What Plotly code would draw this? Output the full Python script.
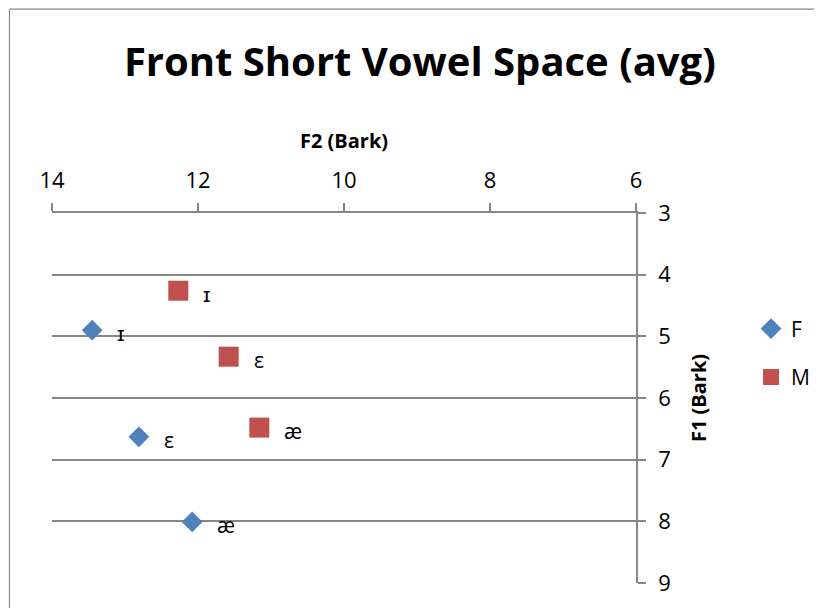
import plotly.graph_objects as go

# vowel averages (Bark)
vowels = ["ɪ", "ε", "æ"]
f_f2 = [13.45, 12.81, 12.08]
f_f1 = [4.90, 6.63, 8.01]
m_f2 = [12.27, 11.58, 11.16]
m_f1 = [4.26, 5.33, 6.48]

FONT = "Open Sans, Liberation Sans, sans-serif"
GRID = "#868686"

fig = go.Figure()
fig.add_trace(go.Scatter(
    x=f_f2, y=f_f1, mode="markers", name="F", legendgroup="F",
    marker=dict(symbol="diamond", size=16, color="#4F81BD",
                line=dict(width=0)),
))
fig.add_trace(go.Scatter(
    x=m_f2, y=m_f1, mode="markers", name="M", legendgroup="M",
    marker=dict(symbol="square", size=20, color="#C0504D",
                line=dict(width=0)),
))

for xs, ys in ((f_f2, f_f1), (m_f2, m_f1)):
    for v, x, y in zip(vowels, xs, ys):
        fig.add_annotation(
            x=x, y=y, text=v, showarrow=False, xanchor="left",
            xshift=23, yshift=-3, font=dict(size=21, color="black", family=FONT),
        )

# outer chart border: only the top and left edges are in view
fig.add_shape(type="line", xref="paper", yref="paper",
              x0=-0.0728, x1=1.5, y0=1.551, y1=1.551,
              line=dict(color=GRID, width=1.2))
fig.add_shape(type="line", xref="paper", yref="paper",
              x0=-0.0728, x1=-0.0728, y0=-0.2, y1=1.551,
              line=dict(color=GRID, width=1.2))

# the page body adds an 8px margin, so the margins are trimmed by 8
fig.update_layout(
    width=822, height=608,
    margin=dict(l=44, r=194, t=205, b=33),
    paper_bgcolor="white", plot_bgcolor="white",
    font=dict(family=FONT, color="black"),
    title=dict(text="<b>Front Short Vowel Space (avg)</b>",
               x=0.501, xanchor="center", xref="container",
               y=0.911, yanchor="middle", yref="container",
               font=dict(size=40, family=FONT, color="black")),
    legend=dict(x=1.197, y=0.742, xanchor="left", yanchor="top",
                font=dict(size=21, family=FONT), tracegroupgap=18,
                traceorder="grouped", itemwidth=30),
    showlegend=True,
)
fig.update_xaxes(
    range=[14, 6], side="top", dtick=2, showgrid=False, automargin=False,
    showline=True, linecolor=GRID, linewidth=1.5,
    ticks="outside", ticklen=8, tickcolor=GRID, tickwidth=1.5,
    tickfont=dict(size=22), zeroline=False, ticklabelstandoff=6,
    title=dict(text="<b>F2 (Bark)</b>", font=dict(size=20), standoff=10),
)
fig.update_yaxes(
    range=[9, 3], side="right", dtick=1, showgrid=True, automargin=False,
    gridcolor=GRID, gridwidth=1.5, zeroline=False,
    showline=True, linecolor=GRID, linewidth=1.5,
    ticks="outside", ticklen=8, tickcolor=GRID, tickwidth=1.5,
    tickfont=dict(size=22), ticklabelstandoff=8,
    title=dict(text="<b>F1 (Bark)</b>", font=dict(size=20), standoff=22),
)

fig.write_html("out.html")
